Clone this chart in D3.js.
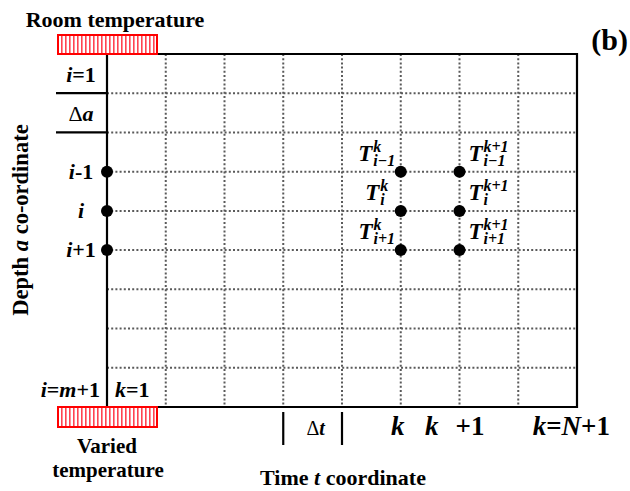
<!DOCTYPE html>
<html>
<head>
<meta charset="utf-8">
<script src="https://cdn.jsdelivr.net/npm/d3@7"></script>
<style>
  html, body { margin: 0; padding: 0; background: #fff; }
  svg { display: block; }
  text { font-family: "Liberation Serif", "Times New Roman", serif; font-weight: bold; fill: #000; }
</style>
</head>
<body>
<svg id="chart" width="630" height="491"></svg>
<script>
// Finite-difference grid: time steps along x, depth nodes along y
const timeCells = 8;            // number of Δt columns
const depthCells = 9;           // number of Δa rows
const boundaryDepthRows = [3, 4, 5];        // nodes i-1, i, i+1 on the surface line
const interiorTimeCols = [5, 6];            // columns k and k+1
const depthNodeLabels = [["i", "-1"], ["i", ""], ["i", "+1"]];
const timeSup = ["k", "k+1"];
const nodeSub = ["i\u22121", "i", "i+1"];

const svg = d3.select("#chart");
const x = d3.scaleLinear().domain([0, timeCells]).range([107, 577]);
const y = d3.scaleLinear().domain([0, depthCells]).range([54, 407]);

// hatch for the temperature boundary bars
const defs = svg.append("defs");
const pat = defs.append("pattern").attr("id", "hatch")
  .attr("patternUnits", "userSpaceOnUse").attr("width", 4).attr("height", 8);
pat.append("rect").attr("width", 4).attr("height", 8).attr("fill", "#fff");
pat.append("rect").attr("x", 1).attr("width", 1.6).attr("height", 8).attr("fill", "#f23").attr("opacity", 0.85);

// dotted interior grid
const grid = svg.append("g").attr("stroke", "#5a5a5a").attr("stroke-width", 2).attr("stroke-dasharray", "2,2.2");
grid.selectAll("line.v").data(d3.range(1, timeCells)).join("line")
  .attr("x1", d => x(d)).attr("x2", d => x(d))
  .attr("y1", y(0)).attr("y2", y(depthCells));
grid.selectAll("line.h").data(d3.range(1, depthCells)).join("line")
  .attr("x1", x(0)).attr("x2", x(timeCells))
  .attr("y1", d => y(d)).attr("y2", d => y(d));

// solid frame
const barL = 58, barW = 99, barH = 19;
const frame = svg.append("g").attr("stroke", "#000").attr("fill", "none").attr("stroke-width", 2.2);
frame.append("path").attr("d", `M${barL + barW},${y(0)}H${x(timeCells)}V${y(depthCells)}H${barL + barW}`);
frame.append("line").attr("x1", x(0)).attr("x2", x(0)).attr("y1", y(0)).attr("y2", y(depthCells));
// short depth ticks at Δa
frame.selectAll("line.tick").data([1, 2]).join("line")
  .attr("x1", 56).attr("x2", x(0)).attr("y1", d => y(d)).attr("y2", d => y(d));
// Δt brackets under the axis
frame.selectAll("line.dt").data([3, 4]).join("line")
  .attr("x1", d => x(d)).attr("x2", d => x(d)).attr("y1", 412).attr("y2", 445);

// boundary bars
svg.append("rect").attr("x", barL).attr("y", y(0) - barH).attr("width", barW).attr("height", barH)
  .attr("fill", "url(#hatch)").attr("stroke", "#f00").attr("stroke-width", 2);
svg.append("rect").attr("x", barL).attr("y", y(depthCells)).attr("width", barW).attr("height", barH + 1)
  .attr("fill", "url(#hatch)").attr("stroke", "#f00").attr("stroke-width", 2);

// nodes
const nodes = [];
boundaryDepthRows.forEach(r => nodes.push([0, r]));
interiorTimeCols.forEach(c => boundaryDepthRows.forEach(r => nodes.push([c, r])));
svg.append("g").selectAll("circle").data(nodes).join("circle")
  .attr("cx", d => x(d[0])).attr("cy", d => y(d[1])).attr("r", 6).attr("fill", "#000");

// mixed-style label helper: "i" italic, "r" regular weight, "n" plain bold
function styled(g, parts, size) {
  const t = g.append("text").attr("font-size", size);
  parts.forEach(([s, st, dx]) => {
    const ts = t.append("tspan").text(s);
    if (st === "i") ts.attr("font-style", "italic");
    if (st === "r") ts.attr("font-weight", "normal");
    if (dx) ts.attr("dx", dx);
  });
  return t;
}

// depth labels on the left
const leftMid = 81;
depthNodeLabels.forEach((lab, i) => {
  styled(svg, [[lab[0], "i"], [lab[1], "n"]], 22)
    .attr("x", leftMid).attr("y", y(boundaryDepthRows[i]) + 7).attr("text-anchor", "middle");
});
styled(svg, [["i", "i"], ["=1", "n"]], 22).attr("x", leftMid).attr("y", 82).attr("text-anchor", "middle");
styled(svg, [["\u0394", "r"], ["a", "i"]], 22).attr("x", leftMid).attr("y", 121).attr("text-anchor", "middle");
styled(svg, [["i", "i"], ["=", "n"], ["m", "i"], ["+1", "n"]], 22).attr("x", 100).attr("y", 397).attr("text-anchor", "end");
styled(svg, [["k", "i"], ["=1", "n"]], 22).attr("x", 115).attr("y", 397);

// time labels below the axis
styled(svg, [["k", "i"]], 27).attr("x", x(5) - 3).attr("y", 435).attr("text-anchor", "middle");
styled(svg, [["k", "i"], ["+1", "n", 17]], 27).attr("x", 425).attr("y", 435);
styled(svg, [["k", "i"], ["=", "n"], ["N", "i"], ["+1", "n"]], 27).attr("x", 610).attr("y", 435).attr("text-anchor", "end");
styled(svg, [["\u0394", "r"], ["t", "i"]], 20).attr("x", (x(3) + x(4)) / 2 + 3).attr("y", 435).attr("text-anchor", "middle");

// node temperature labels T_i^k
const mathFont = "DejaVu Serif";
interiorTimeCols.forEach((c, ci) => {
  boundaryDepthRows.forEach((r, ri) => {
    const g = svg.append("g");
    const T = g.append("text").text("T").attr("font-family", mathFont).attr("font-style", "italic")
      .attr("font-size", 23).attr("y", 0).attr("x", 0);
    const tw = T.node().getComputedTextLength();
    const sup = g.append("text").text(timeSup[ci]).attr("font-style", "italic")
      .attr("font-size", 16).attr("x", tw + 1).attr("y", -9);
    const sub = g.append("text").text(nodeSub[ri]).attr("font-style", "italic")
      .attr("font-size", 16).attr("x", tw + 1).attr("y", 5);
    const w = tw + 1 + Math.max(sup.node().getComputedTextLength(), sub.node().getComputedTextLength());
    const cx = ci === 0 ? x(c) - 24 : x(c) + 29;
    g.attr("transform", `translate(${cx - w / 2},${y(r) - 11})`);
  });
});

// titles
svg.append("text").text("Room temperature").attr("x", 115).attr("y", 27)
  .attr("text-anchor", "middle").attr("font-size", 22);
svg.append("text").text("Varied").attr("x", 107).attr("y", 453)
  .attr("text-anchor", "middle").attr("font-size", 21);
svg.append("text").text("temperature").attr("x", 108).attr("y", 477)
  .attr("text-anchor", "middle").attr("font-size", 21);
styled(svg, [["Time ", "n"], ["t", "i"], [" coordinate", "n"]], 22)
  .attr("x", 343).attr("y", 485).attr("text-anchor", "middle");
styled(svg, [["Depth ", "n"], ["a", "i"], [" co-ordinate", "n"]], 22.5)
  .attr("transform", `translate(28,${220}) rotate(-90)`).attr("text-anchor", "middle");
svg.append("text").text("(b)").attr("x", 628).attr("y", 50).attr("text-anchor", "end").attr("font-size", 30);
</script>
</body>
</html>
